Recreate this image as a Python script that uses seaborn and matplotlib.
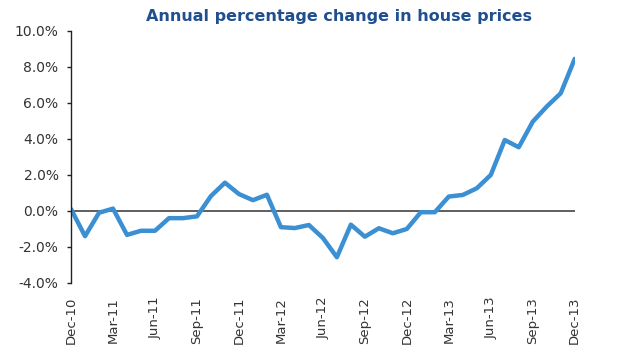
import numpy as np
import pandas as pd
import seaborn as sns
import matplotlib.pyplot as plt
from matplotlib.ticker import FuncFormatter

# monthly annual % change in house prices, Dec-10 .. Dec-13
months = pd.date_range("2010-12-01", "2013-12-01", freq="MS")
change = [0.1, -1.4, -0.1, 0.13, -1.33, -1.1, -1.1, -0.4, -0.4, -0.3,
          0.83, 1.57, 0.94, 0.6, 0.9, -0.9, -0.95, -0.78, -1.5, -2.57,
          -0.76, -1.43, -0.96, -1.24, -1.0, -0.07, -0.07, 0.8, 0.89, 1.26,
          2.0, 3.94, 3.54, 4.96, 5.8, 6.54, 8.45]
yticks = [-4, -2, 0, 2, 4, 6, 8, 10]

df = pd.DataFrame({"idx": np.arange(len(months)), "change": change})
tick_pos = list(range(0, len(months), 3))
tick_lab = [months[i].strftime("%b-%y") for i in tick_pos]

sns.set_theme(style="white")
plt.rcParams['font.family'] = ['DejaVu Sans']

fig = plt.figure(figsize=(6.4, 3.6), dpi=100)
ax = fig.add_axes([0.111, 0.214, 0.787, 0.700])

sns.lineplot(data=df, x="idx", y="change", ax=ax, color="#3b8fd3", linewidth=3.2)
ax.axhline(0, color="#333333", linewidth=1.1, zorder=1)

ax.set_xlim(0, len(months) - 1)
ax.set_ylim(-4, 10)
ax.set_yticks(yticks)
ax.yaxis.set_major_formatter(FuncFormatter(lambda v, p: "%.1f%%" % v))
ax.set_xticks(tick_pos)
ax.set_xticklabels(tick_lab, rotation=90)
ax.set_xlabel("")
ax.set_ylabel("")
ax.tick_params(axis="y", left=True, length=3, width=1, color="#222222",
               labelsize=10, labelcolor="#333333", pad=6)
ax.tick_params(axis="x", bottom=False, labelsize=9.5, labelcolor="#333333", pad=4)

for s in ["top", "right", "bottom"]:
    ax.spines[s].set_visible(False)
ax.spines["left"].set_color("#222222")
ax.spines["left"].set_linewidth(1)

fig.text(0.53, 0.955, "Annual percentage change in house prices", ha="center",
         va="center", fontsize=11.5, color="#1f4f8f", fontweight="bold")

fig.savefig("out.png", dpi=100)
